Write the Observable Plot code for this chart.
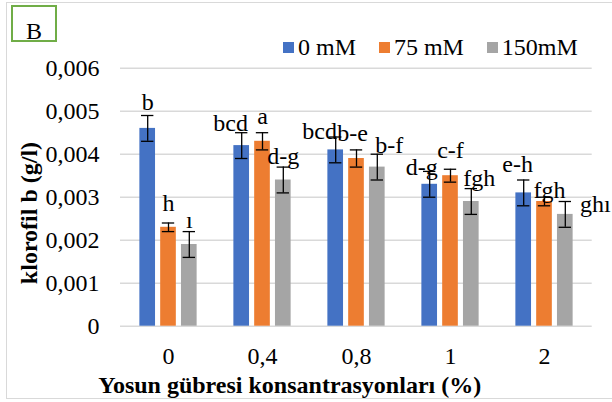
<!DOCTYPE html>
<html>
<head>
<meta charset="utf-8">
<script src="https://cdn.jsdelivr.net/npm/d3@7"></script>
<script src="https://cdn.jsdelivr.net/npm/@observablehq/plot@0.6"></script>
<style>
  html, body { margin: 0; padding: 0; background: #fff; }
  #wrap { position: relative; width: 612px; height: 402px; overflow: hidden; font-family: "Liberation Serif", "Times New Roman", serif; color: #000; }
  #wrap svg { position: absolute; left: 0; top: 0; }
  .abs { position: absolute; white-space: nowrap; font-size: 24px; line-height: 24px; }
  #border { position: absolute; left: 6px; top: 2px; width: 640px; height: 397px; border: 1.3px solid #d9d9d9; box-sizing: border-box; }
  #bbox { position: absolute; left: 11px; top: 5px; width: 46px; height: 37px; border: 2.5px solid #70ad47; box-sizing: border-box; background: #fff; }
  #legend { position: absolute; left: 282.7px; top: 35px; display: flex; align-items: center; height: 24px; font-size: 24px; line-height: 24px; }
  #legend .item { display: flex; align-items: center; margin-right: 22.6px; }
  #legend .sw { width: 11px; height: 11px; margin-right: 4.3px; }
</style>
</head>
<body>
<div id="wrap">
  <div id="border"></div>
</div>
<script>
// ---- data ----
const groups = ["0", "0,4", "0,8", "1", "2"];
const series = ["0 mM", "75 mM", "150mM"];
const colors = ["#4472c4", "#ed7d31", "#a5a5a5"];
const values0 = [0.0046, 0.0042, 0.0041, 0.0033, 0.0031];
const values75 = [0.0023, 0.0043, 0.0039, 0.0035, 0.0029];
const values150 = [0.0019, 0.0034, 0.0037, 0.0029, 0.0026];
const err0 = [0.0003, 0.0003, 0.0003, 0.0003, 0.0003];
const err75 = [0.0001, 0.0002, 0.0002, 0.00015, 0.0001];
const err150 = [0.0003, 0.0003, 0.0003, 0.0003, 0.0003];
const letters0 = ["b", "bcd", "bcd", "d-g", "e-h"];
const letters75 = ["h", "a", "b-e", "c-f", "fgh"];
const letters150 = ["ı", "d-g", "b-f", "fgh", "ghı"];
const yTicks = [0, 0.001, 0.002, 0.003, 0.004, 0.005, 0.006];
const xTitle = "Yosun gübresi konsantrasyonları (%)";
const yTitle = "klorofil b (g/l)";
const panelLabel = "B";

// ---- layout: hand-placed letter label nudges (px), as in the reference ----
const nudgeX = [[0, -11, -16, -8, -6], [0, 0, -4, 0, 5], [0, 0, 12, 8, 30]];
const nudgeY = [[-5.7, -2, 1.6, 3.2, -8.3], [-11.7, -8.4, -9.3, -11.6, 0.6], [-4, -3.4, -1.6, -2.3, 10]];

// ---- build table ----
const valueSets = [values0, values75, values150];
const errSets = [err0, err75, err150];
const letterSets = [letters0, letters75, letters150];
const rows = [];
series.forEach((s, si) => {
  groups.forEach((g, gi) => {
    rows.push({group: g, gi, series: s, si, v: valueSets[si][gi], e: errSets[si][gi], label: letterSets[si][gi]});
  });
});

// ---- layout/style constants ----
const W = 612, H = 402;
const mL = 120, mR = 20.3, mT = 67.7, mB = 402 - 325.7;
const bandW = (W - mL - mR) / groups.length;
const barW = 16, barStep = 20.8, capW = 12.7;
const barInset = (bandW - barW) / 2;
const capInset = (bandW - capW) / 2;

const marks = [
  Plot.gridY(yTicks, {stroke: "#d9d9d9", strokeOpacity: 1, strokeWidth: 1.4})
];
series.forEach((s, si) => {
  const data = rows.filter(d => d.si === si);
  const dx = (si - 1) * barStep;
  marks.push(
    Plot.barY(data, {x: "group", y: "v", fill: colors[si], insetLeft: barInset, insetRight: barInset, dx}),
    Plot.ruleX(data, {x: "group", y1: d => d.v - d.e, y2: d => d.v + d.e, stroke: "#000", strokeWidth: 1.3, dx}),
    Plot.tickY(data, {x: "group", y: d => d.v + d.e, stroke: "#000", strokeWidth: 1.3, insetLeft: capInset, insetRight: capInset, dx}),
    Plot.tickY(data, {x: "group", y: d => d.v - d.e, stroke: "#000", strokeWidth: 1.3, insetLeft: capInset, insetRight: capInset, dx})
  );
});
rows.forEach(d => {
  marks.push(Plot.text([d], {x: "group", y: r => r.v + r.e, text: "label",
    dx: (d.si - 1) * barStep + nudgeX[d.si][d.gi], dy: nudgeY[d.si][d.gi],
    lineAnchor: "bottom", fontSize: 24, fill: "#000"}));
});
marks.push(
  Plot.axisY(yTicks, {tickSize: 0, tickPadding: 21, fontSize: 24, label: null,
    tickFormat: d => d === 0 ? "0" : d.toFixed(3).replace(".", ",")}),
  Plot.axisX({tickSize: 0, tickPadding: 21, fontSize: 24, label: null})
);

const chart = Plot.plot({
  width: W, height: H,
  marginLeft: mL, marginRight: mR, marginTop: mT, marginBottom: mB,
  x: {domain: groups, padding: 0, axis: null},
  y: {domain: [0, 0.006], axis: null},
  style: {fontFamily: "'Liberation Serif', 'Times New Roman', serif", fontSize: "24px", color: "#000", background: "transparent", overflow: "visible"},
  marks
});

const wrap = document.getElementById("wrap");
wrap.appendChild(chart);

// panel label box
const bbox = document.createElement("div");
bbox.id = "bbox";
wrap.appendChild(bbox);
const bText = document.createElement("div");
bText.className = "abs";
bText.style.left = "11px"; bText.style.width = "46px"; bText.style.top = "19px"; bText.style.textAlign = "center";
bText.textContent = panelLabel;
wrap.appendChild(bText);

// legend
const legend = document.createElement("div");
legend.id = "legend";
series.forEach((s, i) => {
  const it = document.createElement("div");
  it.className = "item";
  const sw = document.createElement("span");
  sw.className = "sw"; sw.style.background = colors[i];
  const tx = document.createElement("span");
  tx.textContent = s;
  it.appendChild(sw); it.appendChild(tx);
  legend.appendChild(it);
});
wrap.appendChild(legend);

// x title
const xt = document.createElement("div");
xt.className = "abs";
xt.style.fontWeight = "bold";
xt.style.left = (289.7 - 300) + "px"; xt.style.width = "600px"; xt.style.textAlign = "center";
xt.style.top = "373px";
xt.textContent = xTitle;
wrap.appendChild(xt);

// y title
const yt = document.createElement("div");
yt.className = "abs";
yt.style.fontWeight = "bold";
yt.style.left = (28.5 - 100) + "px"; yt.style.width = "200px"; yt.style.textAlign = "center";
yt.style.top = (213.3 - 12) + "px"; yt.style.height = "24px";
yt.style.transform = "rotate(-90deg)";
yt.textContent = yTitle;
wrap.appendChild(yt);
</script>
</body>
</html>
